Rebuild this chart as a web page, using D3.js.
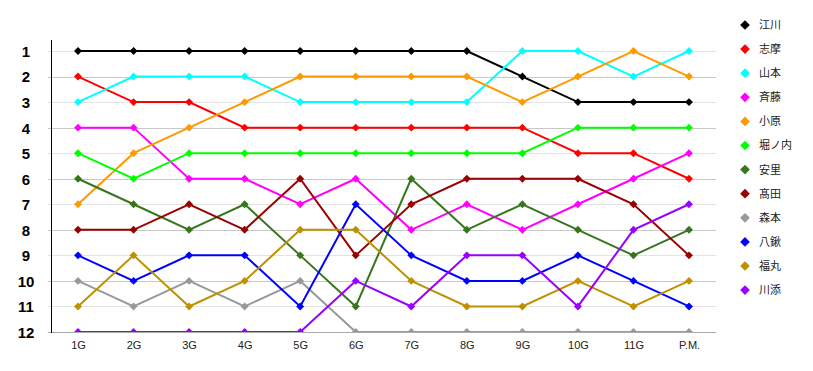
<!DOCTYPE html>
<html>
<head>
<meta charset="utf-8">
<script src="https://cdn.jsdelivr.net/npm/d3@7"></script>
<style>
  body { margin: 0; background: #fff; }
  svg { display: block; }
</style>
</head>
<body>
<div id="chart"></div>
<script>
// rounds along the x axis
var rounds = ['1G', '2G', '3G', '4G', '5G', '6G', '7G', '8G', '9G', '10G', '11G', 'P.M.'];
var ranks = [1, 2, 3, 4, 5, 6, 7, 8, 9, 10, 11, 12];

var players = ['江川', '志摩', '山本', '斉藤', '小原', '堀ノ内', '安里', '髙田', '森本', '八鍬', '福丸', '川添'];
var colors = ['#000000', '#ff0000', '#00ffff', '#ff00ff', '#ff9900', '#00ff00', '#38761d', '#990000', '#999999', '#0000ff', '#bf9000', '#9900ff'];

var egawa    = [1, 1, 1, 1, 1, 1, 1, 1, 2, 3, 3, 3];
var shima    = [2, 3, 3, 4, 4, 4, 4, 4, 4, 5, 5, 6];
var yamamoto = [3, 2, 2, 2, 3, 3, 3, 3, 1, 1, 2, 1];
var saito    = [4, 4, 6, 6, 7, 6, 8, 7, 8, 7, 6, 5];
var ohara    = [7, 5, 4, 3, 2, 2, 2, 2, 3, 2, 1, 2];
var horinouchi = [5, 6, 5, 5, 5, 5, 5, 5, 5, 4, 4, 4];
var asato    = [6, 7, 8, 7, 9, 11, 6, 8, 7, 8, 9, 8];
var takada   = [8, 8, 7, 8, 6, 9, 7, 6, 6, 6, 7, 9];
var morimoto = [10, 11, 10, 11, 10, 12, 12, 12, 12, 12, 12, 12];
var yakuwa   = [9, 10, 9, 9, 11, 7, 9, 10, 10, 9, 10, 11];
var fukumaru = [11, 9, 11, 10, 8, 8, 10, 11, 11, 10, 11, 10];
var kawazoe  = [12, 12, 12, 12, 12, 10, 11, 9, 9, 11, 8, 7];

var series = [egawa, shima, yamamoto, saito, ohara, horinouchi, asato, takada, morimoto, yakuwa, fukumaru, kawazoe];

var W = 813, H = 371;
var mLeft = 51, mRight = 716, mTop = 40, mBottom = 332;

var svg = d3.select('#chart').append('svg').attr('width', W).attr('height', H);

var x = d3.scalePoint().domain(rounds).range([78, 689]);
var y = d3.scaleLinear().domain([1, 12]).range([51, mBottom]);

svg.append('clipPath').attr('id', 'plotclip')
  .append('rect').attr('x', 0).attr('y', 0).attr('width', W).attr('height', mBottom);

// gridlines, even ranks a bit darker
svg.append('g').selectAll('line').data(ranks.slice(0, 11)).enter().append('line')
  .attr('x1', mLeft - 3).attr('x2', mRight)
  .attr('y1', function(d) { return Math.round(y(d)) + 0.5; })
  .attr('y2', function(d) { return Math.round(y(d)) + 0.5; })
  .attr('stroke', function(d) { return d % 2 === 0 ? '#c8c8c8' : '#e4e4e4'; })
  .attr('stroke-width', 1);

// y axis labels
var yAxis = d3.axisLeft(y).tickValues(ranks).tickSize(0).tickPadding(0);
var gy = svg.append('g').attr('transform', 'translate(26,0)').call(yAxis);
gy.select('.domain').remove();
gy.selectAll('text')
  .attr('text-anchor', 'middle')
  .attr('dy', '0.36em')
  .style('font-family', '"Liberation Sans", Arial, sans-serif')
  .style('font-size', '15px')
  .style('font-weight', 'bold')
  .attr('fill', '#000');

// x axis labels
var xAxis = d3.axisBottom(x).tickSize(0).tickPadding(0);
var gx = svg.append('g').attr('transform', 'translate(0,' + 341 + ')').call(xAxis);
gx.select('.domain').remove();
gx.selectAll('text')
  .attr('dy', '0.71em')
  .style('font-family', '"Liberation Sans", Arial, sans-serif')
  .style('font-size', '11px')
  .attr('fill', '#222');

// lines and markers
var plot = svg.append('g').attr('clip-path', 'url(#plotclip)');
var line = d3.line()
  .x(function(d, i) { return x(rounds[i]); })
  .y(function(d) { return y(d); });

var diamond = d3.symbol().type(d3.symbolDiamond2).size(40);

series.forEach(function(vals, k) {
  var g = plot.append('g');
  g.append('path').datum(vals)
    .attr('d', line)
    .attr('fill', 'none')
    .attr('stroke', colors[k])
    .attr('stroke-width', 2);
  g.selectAll('path.mk').data(vals).enter().append('path')
    .attr('class', 'mk')
    .attr('d', diamond)
    .attr('transform', function(d, i) { return 'translate(' + x(rounds[i]) + ',' + y(d) + ')'; })
    .attr('fill', colors[k]);
});

// axis lines
svg.append('line')
  .attr('x1', mLeft - 3).attr('x2', mRight)
  .attr('y1', mBottom + 0.5).attr('y2', mBottom + 0.5)
  .attr('stroke', '#aaaaaa');
svg.append('line')
  .attr('x1', mLeft + 0.5).attr('x2', mLeft + 0.5)
  .attr('y1', mTop).attr('y2', mBottom + 1)
  .attr('stroke', '#000');

// legend
var legend = svg.append('g').selectAll('g').data(players).enter().append('g')
  .attr('transform', function(d, i) { return 'translate(745,' + (25 + i * 24.1) + ')'; });
legend.append('path')
  .attr('d', d3.symbol().type(d3.symbolDiamond2).size(60))
  .attr('fill', function(d, i) { return colors[i]; });
legend.append('text')
  .attr('x', 14).attr('dy', '0.36em')
  .style('font-family', '"Noto Sans CJK JP", sans-serif')
  .style('font-size', '11px')
  .attr('fill', '#222')
  .text(function(d) { return d; });
</script>
</body>
</html>
